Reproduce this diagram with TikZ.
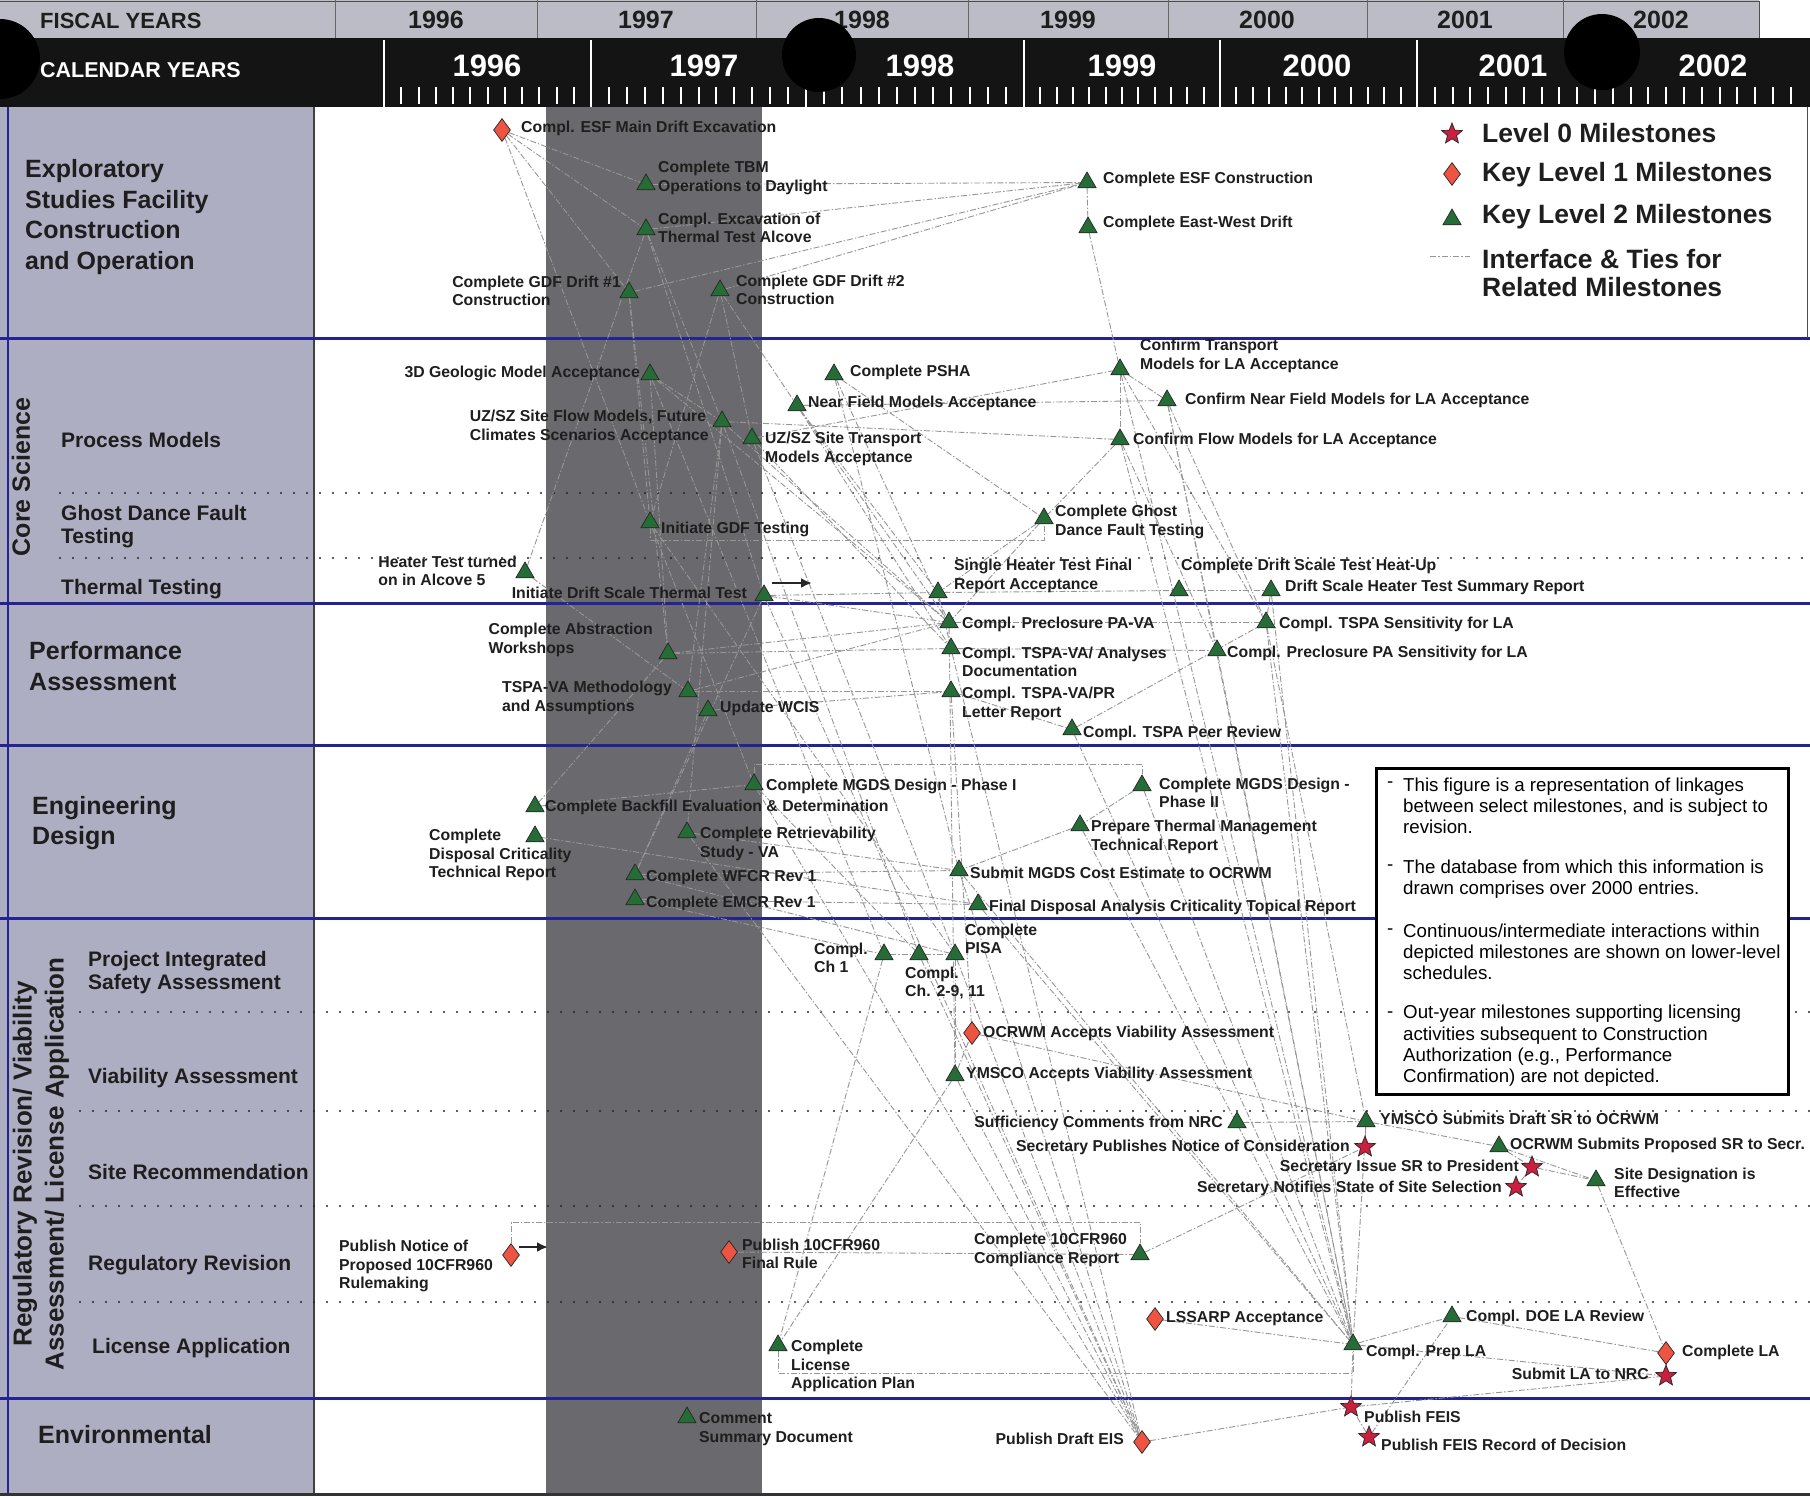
\documentclass[tikz,border=0pt]{standalone}
\usepackage{fontspec}
\setmainfont{Liberation Sans}
\usetikzlibrary{shapes.geometric,arrows.meta}
\pgfdeclarelayer{back}
\pgfdeclarelayer{ties}
\pgfsetlayers{back,ties,main}
\definecolor{colc}{RGB}{174,174,194}
\definecolor{fiscalc}{RGB}{188,188,198}
\definecolor{bandc}{RGB}{106,106,110}
\definecolor{bluec}{RGB}{35,35,145}
\definecolor{trigreen}{RGB}{38,108,55}
\definecolor{diared}{RGB}{238,84,66}
\definecolor{starred}{RGB}{200,32,62}
\definecolor{tiec}{RGB}{150,150,150}
\definecolor{txtc}{RGB}{30,30,30}
\newcommand\lblf{\fontsize{15.8}{18.5}\selectfont\bfseries}
\newcommand\rowf{\fontsize{25}{30.7}\selectfont\bfseries}
\newcommand\subrowf{\fontsize{21}{23}\selectfont\bfseries}
\newcommand\legf{\fontsize{26.5}{28.5}\selectfont\bfseries}
\newcommand\notef{\fontsize{18.7}{21.3}\selectfont}
\tikzset{
  tri/.style={regular polygon, regular polygon sides=3, minimum size=21pt, inner sep=0pt, fill=trigreen, draw=black!85, line width=0.7pt, yshift=-2.5pt},
  dia/.style={diamond, minimum width=17pt, minimum height=23pt, inner sep=0pt, fill=diared, draw=black!85, line width=0.7pt},
  lvlzero/.style={star, star points=5, star point ratio=2.3, minimum size=22pt, inner sep=0pt, fill=starred, draw=black!85, line width=0.7pt},
  lbl/.style={font=\lblf, inner sep=0pt, text=txtc, align=left},
  lw/.style={lbl, anchor=west},
  le/.style={lbl, anchor=east},
  tie/.style={draw=tiec, line width=0.9pt, dash pattern=on 6pt off 2pt on 1.5pt off 2pt},
  dotrow/.style={line width=2.2pt, dash pattern=on 0pt off 13pt, line cap=round, draw=black!85},
  blueln/.style={draw=bluec, line width=3pt},
  rowlbl/.style={font=\rowf, inner sep=0pt, text=txtc, align=left, anchor=west},
  sublbl/.style={font=\subrowf, inner sep=0pt, text=txtc, align=left, anchor=west},
  fy/.style={font=\fontsize{25}{25}\selectfont\bfseries, text=txtc, inner sep=0pt},
  cy/.style={font=\fontsize{31}{31}\selectfont\bfseries, text=white, inner sep=0pt},
  notetxt/.style={font=\notef, inner sep=0pt, text=black, align=left, anchor=west},
  legtxt/.style={font=\legf, inner sep=0pt, text=txtc, align=left, anchor=west},
  contarrow/.style={-{Latex[length=11pt,width=10pt]}, line width=2.4pt, draw=black!85}
}
\begin{document}
\begin{tikzpicture}[x=1pt,y=-1pt]
\useasboundingbox (0,0) rectangle (1810,1497);
\begin{pgfonlayer}{back}
  \fill[white] (0,0) rectangle (1810,1497);
  \fill[colc] (0,106) rectangle (314,1494);
  \fill[bandc] (546,106) rectangle (762,1494);
  \draw[black!75, line width=1.5pt] (314,106) -- (314,1494);
  \draw[bluec, line width=2pt] (8,106) -- (8,1494);
  \foreach \yy in {338,603,745,918,1398} {\draw[blueln] (0,\yy) -- (1810,\yy);}
  \foreach \yy in {493,558} {\draw[dotrow] (60,\yy) -- (1810,\yy);}
  \foreach \yy in {1012,1111,1206,1302} {\draw[dotrow] (80,\yy) -- (1810,\yy);}
  \draw[black!80, line width=3pt] (0,1494) -- (1810,1494);
  \draw[black!70, line width=1pt] (1807,106) -- (1807,338);
\end{pgfonlayer}

% ---------------- header ----------------
\fill[fiscalc] (0,0) rectangle (1759,38);
\draw[black!70, line width=1pt] (0,1) -- (1759,1) -- (1759,38);
\foreach \xx in {335,537,756,968,1168,1367,1563} {\draw[black!60, line width=1pt] (\xx,0) -- (\xx,38);}
\node[fy, anchor=west, font=\fontsize{22}{22}\selectfont\bfseries] (fylbl) at (40,21) {FISCAL YEARS};
\node[fy] (fy96) at (436,20) {1996};
\node[fy] (fy97) at (646,20) {1997};
\node[fy] (fy98) at (862,20) {1998};
\node[fy] (fy99) at (1068,20) {1999};
\node[fy] (fy00) at (1267,20) {2000};
\node[fy] (fy01) at (1465,20) {2001};
\node[fy] (fy02) at (1661,20) {2002};
\fill[black!92] (0,38) rectangle (1810,107);
\node[cy, anchor=west, font=\fontsize{21.5}{21.5}\selectfont\bfseries] (cylbl) at (40,70) {CALENDAR YEARS};
\foreach \xx in {384,591,806,1024,1220,1417} {\draw[white, line width=2.5pt] (\xx,40) -- (\xx,107);}
\foreach \a/\b in {384/591,591/806,806/1024,1024/1220,1220/1417} {
  \foreach \k in {1,...,11} {\draw[white, line width=2pt] ({\a+\k*(\b-\a)/12},87) -- ++(0,17);}
}
\foreach \k in {1,...,21} {\draw[white, line width=2pt] ({1417+\k*17.8},87) -- ++(0,17);}
\node[cy] (cy96) at (487,66) {1996};
\node[cy] (cy97) at (704,66) {1997};
\node[cy] (cy98) at (920,66) {1998};
\node[cy] (cy99) at (1122,66) {1999};
\node[cy] (cy00) at (1317,66) {2000};
\node[cy] (cy01) at (1513,66) {2001};
\node[cy] (cy02) at (1713,66) {2002};
\fill[black] (0,59) circle (40);
\fill[black] (819,55) circle (37);
\fill[black] (1602,52) circle (38);

% ---------------- row labels ----------------
\node[rowlbl] (rEsf) at (25,217) {Exploratory\\Studies Facility\\Construction\\and Operation};
\node[font=\rowf, inner sep=0pt, text=txtc, rotate=90] (rCore) at (21,477) {Core Science};
\node[sublbl] (rProc) at (61,440) {Process Models};
\node[sublbl] (rGhost) at (61,527) {Ghost Dance Fault\\Testing};
\node[sublbl] (rTherm) at (61,589) {Thermal Testing};
\node[rowlbl] (rPA) at (29,666) {Performance\\Assessment};
\node[rowlbl] (rEng) at (32,823) {Engineering\\Design};
\node[font=\fontsize{26}{32}\selectfont\bfseries, inner sep=0pt, text=txtc, rotate=90, align=center] (rReg) at (41,1164) {Regulatory Revision/ Viability\\Assessment/ License Application};
\node[sublbl] (rPisa) at (88,973) {Project Integrated\\Safety Assessment};
\node[sublbl] (rVA) at (88,1078) {Viability Assessment};
\node[sublbl] (rSR) at (88,1172) {Site Recommendation};
\node[sublbl] (rRR) at (88,1265) {Regulatory Revision};
\node[sublbl] (rLA) at (92,1348) {License Application};
\node[rowlbl] (rEnv) at (38,1435) {Environmental};

% ---------------- legend ----------------
\node[lvlzero] (lg0) at (1452,134) {};
\node[legtxt] (lg0t) at (1482,133) {Level 0 Milestones};
\node[dia] (lg1) at (1452,174) {};
\node[legtxt] (lg1t) at (1482,175) {Key Level 1 Milestones};
\node[tri] (lg2) at (1452,217) {};
\node[legtxt] (lg2t) at (1482,217) {Key Level 2 Milestones};
\coordinate (lgA) at (1430,256);
\coordinate (lgB) at (1470,256);
\node[legtxt] (lg3t) at (1482,273) {Interface \& Ties for\\Related Milestones};

% ---------------- note box ----------------
\node[draw=black, line width=3pt, fill=white, minimum width=412pt, minimum height=326pt, anchor=north west, inner sep=0pt] (notebox) at (1375,767) {};
\foreach \yy in {785,868,932,1015} {\node[notetxt] at (1387,\yy) {-};}
\node[notetxt] (n1) at (1403,806) {This figure is a representation of linkages\\between select milestones, and is subject to\\revision.};
\node[notetxt] (n2) at (1403,879) {The database from which this information is\\drawn comprises over 2000 entries.};
\node[notetxt] (n3) at (1403,952) {Continuous/intermediate interactions within\\depicted milestones are shown on lower-level\\schedules.};
\node[notetxt] (n4) at (1403,1046) {Out-year milestones supporting licensing\\activities subsequent to Construction\\Authorization (e.g., Performance\\Confirmation) are not depicted.};

% ---------------- milestones: ESF ----------------
\node[dia] (esfMain) at (502,130) {};
\node[lw] at (521,128) {Compl. ESF Main Drift Excavation};
\node[tri] (tbm) at (646,182) {};
\node[lw] at (658,178) {Complete TBM\\Operations to Daylight};
\node[tri] (alcove) at (646,227) {};
\node[lw] at (658,228) {Compl. Excavation of\\Thermal Test Alcove};
\node[tri] (gdf1) at (629,290) {};
\node[le] at (621,291) {Complete GDF Drift \#1\\Construction};
\node[tri] (gdf2) at (720,288) {};
\node[lw] at (736,290) {Complete GDF Drift \#2\\Construction};
\node[tri] (esfCon) at (1087,180) {};
\node[lw] at (1103,179) {Complete ESF Construction};
\node[tri] (ewDrift) at (1088,225) {};
\node[lw] at (1103,223) {Complete East-West Drift};

% ---------------- Core science ----------------
\node[tri] (geo3d) at (650,372) {};
\node[le] at (640,373) {3D Geologic Model Acceptance};
\node[tri] (psha) at (834,372) {};
\node[lw] at (850,372) {Complete PSHA};
\node[tri] (nearField) at (797,403) {};
\node[lw] at (808,403) {Near Field Models Acceptance};
\node[tri] (uzFlow) at (722,419) {};
\node[le] at (709,427) {UZ/SZ Site Flow Models, Future\\Climates Scenarios Acceptance};
\node[tri] (uzTrans) at (752,436) {};
\node[lw] at (765,449) {UZ/SZ Site Transport\\Models Acceptance};
\node[tri] (cTrans) at (1120,367) {};
\node[lw] at (1140,356) {Confirm Transport\\Models for LA Acceptance};
\node[tri] (cNear) at (1167,398) {};
\node[lw] at (1185,400) {Confirm Near Field Models for LA Acceptance};
\node[tri] (cFlow) at (1120,437) {};
\node[lw] at (1133,440) {Confirm Flow Models for LA Acceptance};
\node[tri] (initGDF) at (650,520) {};
\node[lw] at (661,529) {Initiate GDF Testing};
\node[tri] (ghost) at (1044,516) {};
\node[lw] at (1055,522) {Complete Ghost\\Dance Fault Testing};
\node[tri] (heater) at (525,570) {};
\node[le] at (517,571) {Heater Test turned\\on in Alcove 5};
\node[tri] (initDST) at (764,593) {};
\node[le] at (747,593) {Initiate Drift Scale Thermal Test};
\node[tri] (singleHeater) at (938,590) {};
\node[lw] at (954,576) {Single Heater Test Final\\Report Acceptance};
\node[tri] (dstHeat) at (1179,588) {};
\node[lw] at (1181,566) {Complete Drift Scale Test Heat-Up};
\node[tri] (dstSum) at (1271,588) {};
\node[lw] at (1285,587) {Drift Scale Heater Test Summary Report};
\coordinate (arA) at (772,583);
\coordinate (arB) at (812,583);

% ---------------- Performance assessment ----------------
\node[tri] (preVA) at (949,620) {};
\node[lw] at (962,624) {Compl. Preclosure PA-VA};
\node[tri] (tspaSensLA) at (1266,620) {};
\node[lw] at (1279,624) {Compl. TSPA Sensitivity for LA};
\node[tri] (tspaDoc) at (951,646) {};
\node[lw] at (962,662) {Compl. TSPA-VA/ Analyses\\Documentation};
\node[tri] (preSensLA) at (1217,648) {};
\node[lw] at (1227,653) {Compl. Preclosure PA Sensitivity for LA};
\node[tri] (abstr) at (668,651) {};
\node[le] at (653,640) {Complete Abstraction\\Workshops};
\node[tri] (tspaMeth) at (688,689) {};
\node[le] at (672,698) {TSPA-VA Methodology\\and Assumptions};
\node[tri] (wcis) at (708,708) {};
\node[lw] at (720,708) {Update WCIS};
\node[tri] (tspaPR) at (951,689) {};
\node[lw] at (962,704) {Compl. TSPA-VA/PR\\Letter Report};
\node[tri] (peer) at (1072,727) {};
\node[lw] at (1083,733) {Compl. TSPA Peer Review};

% ---------------- Engineering ----------------
\node[tri] (mgds1) at (754,782) {};
\node[lw] at (766,786) {Complete MGDS Design - Phase I};
\node[tri] (mgds2) at (1142,783) {};
\node[lw] at (1159,793) {Complete MGDS Design -\\Phase II};
\node[tri] (backfill) at (535,804) {};
\node[lw] at (545,807) {Complete Backfill Evaluation \& Determination};
\node[tri] (criticality) at (535,834) {};
\node[lw] at (429,855) {Complete\\Disposal Criticality\\Technical Report};
\node[tri] (retriev) at (687,830) {};
\node[lw] at (700,844) {Complete Retrievability\\Study - VA};
\node[tri] (thermalMgmt) at (1080,823) {};
\node[lw] at (1091,837) {Prepare Thermal Management\\Technical Report};
\node[tri] (wfcr) at (635,872) {};
\node[lw] at (646,877) {Complete WFCR Rev 1};
\node[tri] (costEst) at (959,868) {};
\node[lw] at (970,873) {Submit MGDS Cost Estimate to OCRWM};
\node[tri] (emcr) at (635,897) {};
\node[lw] at (646,903) {Complete EMCR Rev 1};
\node[tri] (finalCrit) at (978,902) {};
\node[lw] at (989,907) {Final Disposal Analysis Criticality Topical Report};

% ---------------- Regulatory ----------------
\node[tri] (ch1) at (884,952) {};
\node[lw] at (814,958) {Compl.\\Ch 1};
\node[tri] (ch29) at (919,952) {};
\node[lw] at (905,983) {Compl.\\Ch. 2-9, 11};
\node[tri] (pisa) at (955,952) {};
\node[lw] at (965,939) {Complete\\PISA};
\node[dia] (ocrwmVA) at (972,1033) {};
\node[lw] at (983,1033) {OCRWM Accepts Viability Assessment};
\node[tri] (ymscoVA) at (955,1073) {};
\node[lw] at (966,1074) {YMSCO Accepts Viability Assessment};
\node[tri] (suffNRC) at (1237,1120) {};
\node[le] at (1223,1123) {Sufficiency Comments from NRC};
\node[tri] (ymscoDraft) at (1366,1119) {};
\node[lw] at (1380,1119) {YMSCO Submits Draft SR to OCRWM};
\node[lvlzero] (secPub) at (1365,1147) {};
\node[le] at (1350,1147) {Secretary Publishes Notice of Consideration};
\node[tri] (ocrwmSub) at (1499,1144) {};
\node[lw] at (1510,1145) {OCRWM Submits Proposed SR to Secr.};
\node[lvlzero] (secIssue) at (1532,1167) {};
\node[le] at (1519,1167) {Secretary Issue SR to President};
\node[lvlzero] (secNotify) at (1516,1187) {};
\node[le] at (1502,1188) {Secretary Notifies State of Site Selection};
\node[tri] (siteDes) at (1596,1178) {};
\node[lw] at (1614,1183) {Site Designation is\\Effective};
\node[dia] (pubNotice) at (511,1255) {};
\node[lw] at (339,1266) {Publish Notice of\\Proposed 10CFR960\\Rulemaking};
\coordinate (arC) at (519,1247);
\coordinate (arD) at (548,1247);
\node[dia] (pub10cfr) at (729,1252) {};
\node[lw] at (742,1254) {Publish 10CFR960\\Final Rule};
\node[tri] (comp10cfr) at (1140,1252) {};
\node[lw] at (974,1250) {Complete 10CFR960\\Compliance Report};
\node[dia] (lssarp) at (1155,1319) {};
\node[lw] at (1166,1319) {LSSARP Acceptance};
\node[tri] (licPlan) at (778,1343) {};
\node[lw] at (791,1366) {Complete\\License\\Application Plan};
\node[tri] (prepLA) at (1353,1342) {};
\node[lw] at (1366,1352) {Compl. Prep LA};
\node[tri] (doeRev) at (1452,1314) {};
\node[lw] at (1466,1317) {Compl. DOE LA Review};
\node[dia] (compLA) at (1666,1353) {};
\node[lw] at (1682,1352) {Complete LA};
\node[lvlzero] (submitLA) at (1666,1376) {};
\node[le] at (1649,1374) {Submit LA to NRC};

% ---------------- Environmental ----------------
\node[tri] (comment) at (687,1415) {};
\node[lw] at (699,1429) {Comment\\Summary Document};
\node[dia] (draftEIS) at (1142,1442) {};
\node[le] at (1124,1439) {Publish Draft EIS};
\node[lvlzero] (feis) at (1351,1407) {};
\node[lw] at (1364,1417) {Publish FEIS};
\node[lvlzero] (feisROD) at (1369,1437) {};
\node[lw] at (1381,1445) {Publish FEIS Record of Decision};

% ---------------- continuation arrows ----------------
\draw[contarrow] (arA) -- (arB);
\draw[contarrow] (arC) -- (arD);

% ---------------- ties ----------------
\begin{pgfonlayer}{ties}
\draw[tie] (lgA) -- (lgB);
\foreach \a/\b in {
 esfMain/tbm, esfMain/alcove, esfMain/gdf1, esfMain/initGDF,
 tbm/esfCon, alcove/esfCon, gdf1/esfCon, gdf2/esfCon, esfCon/ewDrift, ewDrift/cTrans,
 alcove/heater, alcove/initDST, gdf1/initGDF, gdf2/initGDF, gdf2/uzTrans, gdf2/nearField,
 alcove/uzFlow, gdf1/abstr, geo3d/uzFlow, geo3d/ch1, geo3d/preVA, geo3d/abstr,
 psha/ghost, psha/preVA, psha/costEst,
 nearField/cNear, nearField/preVA, nearField/tspaDoc, nearField/singleHeater,
 uzFlow/cFlow, uzFlow/preVA, uzFlow/ch29, uzFlow/tspaMeth, uzFlow/retriev,
 uzTrans/cTrans, uzTrans/tspaDoc, uzTrans/pisa,
 cTrans/cNear, cTrans/cFlow, cTrans/tspaSensLA, cTrans/prepLA,
 cNear/tspaSensLA, cNear/preSensLA, cNear/prepLA,
 cFlow/ghost, cFlow/preSensLA, cFlow/prepLA,
 ghost/singleHeater, ghost/preVA, heater/tspaMeth,
 initDST/singleHeater, singleHeater/dstHeat, dstHeat/dstSum, dstSum/tspaSensLA, dstSum/prepLA,
 singleHeater/tspaDoc, initDST/preVA, initDST/draftEIS, initDST/wfcr, initGDF/pisa, initGDF/mgds1,
 abstr/preVA, abstr/tspaDoc, abstr/backfill, tspaMeth/preVA, tspaMeth/tspaPR, wcis/tspaPR, wcis/wfcr,
 preVA/tspaSensLA, tspaDoc/preSensLA, tspaPR/peer, peer/tspaSensLA,
 preVA/ymscoVA, tspaDoc/draftEIS, tspaPR/ocrwmVA,
 tspaSensLA/prepLA, preSensLA/prepLA, tspaSensLA/ymscoDraft, peer/prepLA,
 backfill/mgds1, criticality/finalCrit, retriev/costEst, wfcr/costEst, emcr/finalCrit,
 wfcr/pisa, emcr/ch1, mgds1/ch29, mgds1/draftEIS, retriev/draftEIS,
 mgds2/thermalMgmt, mgds2/prepLA, thermalMgmt/costEst, thermalMgmt/prepLA,
 costEst/draftEIS, costEst/prepLA, finalCrit/prepLA,
 ch1/ch29, ch29/pisa, pisa/ymscoVA, pisa/draftEIS, ch29/draftEIS, ch1/licPlan,
 ymscoVA/ocrwmVA, ocrwmVA/ymscoDraft, ymscoVA/draftEIS, ymscoVA/licPlan,
 suffNRC/ymscoDraft, secPub/ymscoDraft, ymscoDraft/ocrwmSub, ocrwmSub/secIssue,
 secIssue/secNotify, secIssue/siteDes, ocrwmSub/siteDes, siteDes/compLA, ymscoDraft/prepLA,
 pub10cfr/comp10cfr, comp10cfr/secPub,
 lssarp/prepLA, prepLA/doeRev, doeRev/compLA, compLA/submitLA, prepLA/submitLA,
 draftEIS/feis, feis/prepLA, feisROD/doeRev, feisROD/feis, feis/submitLA}
 {\draw[tie] (\a) -- (\b);}
\coordinate (e1) at (1044,540);
\draw[tie] (initGDF) |- (e1) -- (ghost);
\coordinate (e2) at (1142,764);
\draw[tie] (mgds1) |- (e2) -- (mgds2);
\coordinate (e3) at (1140,1222);
\draw[tie] (pubNotice) |- (e3) -- (comp10cfr);
\coordinate (e4) at (1353,1373);
\draw[tie] (licPlan) |- (e4) -- (prepLA);
\end{pgfonlayer}
\end{tikzpicture}
\end{document}
